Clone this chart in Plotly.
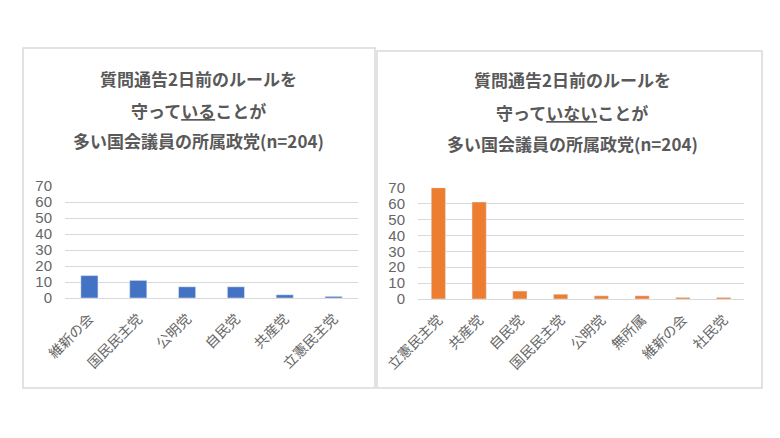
import plotly.graph_objects as go

# ---- data ----
left_parties = ["維新の会", "国民民主党", "公明党", "自民党", "共産党", "立憲民主党"]
left_values = [14, 11, 7, 7, 2, 1]

right_parties = ["立憲民主党", "共産党", "自民党", "国民民主党", "公明党", "無所属", "維新の会", "社民党"]
right_values = [70, 61, 5, 3, 2, 2, 1, 1]

left_title = ["質問通告2日前のルールを", "守って<u>いる</u>ことが", "多い国会議員の所属政党(n=204)"]
right_title = ["質問通告2日前のルールを", "守って<u>いない</u>ことが", "多い国会議員の所属政党(n=204)"]

y_ticks = [0, 10, 20, 30, 40, 50, 60, 70]

W, H = 780, 438
FONT = "Noto Sans CJK JP"
TXT = "#595959"
GRID = "#d9d9d9"

def px(x):
    return x / W

def py(y):
    return 1 - y / H

fig = go.Figure()
fig.add_trace(go.Bar(x=left_parties, y=left_values, marker_color="#4472C4",
                     xaxis="x", yaxis="y", showlegend=False))
fig.add_trace(go.Bar(x=right_parties, y=right_values, marker_color="#ED7D31",
                     xaxis="x2", yaxis="y2", showlegend=False))

xcommon = dict(showgrid=False, showline=True, linecolor=GRID, linewidth=1, ticks="",
               tickangle=-45, tickfont=dict(family=FONT, size=14, color="#666666"),
               fixedrange=True, ticklabelstandoff=6, automargin=False)
ycommon = dict(range=[0, 70], tickvals=y_ticks, showgrid=True, gridcolor=GRID, gridwidth=1,
               zeroline=False, showline=False, ticks="",
               tickfont=dict(family="Liberation Sans", size=15, color="#666666"),
               fixedrange=True, ticklabelstandoff=12, automargin=False)

fig.update_layout(
    width=W, height=H,
    margin=dict(l=0, r=0, t=0, b=0, autoexpand=False),
    paper_bgcolor="white", plot_bgcolor="white",
    bargap=0.65,
    xaxis=dict(domain=[px(65), px(358)], anchor="y", **xcommon),
    yaxis=dict(domain=[py(298), py(186)], anchor="x", **ycommon),
    xaxis2=dict(domain=[px(418), px(744)], anchor="y2", **xcommon),
    yaxis2=dict(domain=[py(299), py(187.7)], anchor="x2", **ycommon),
)

# panel borders
fig.add_shape(type="rect", xref="paper", yref="paper", x0=px(23), x1=px(375), y0=py(388), y1=py(48),
              line=dict(color="#d9d9d9", width=1.5), layer="below")
fig.add_shape(type="rect", xref="paper", yref="paper", x0=px(377), x1=px(762), y0=py(388), y1=py(51),
              line=dict(color="#d9d9d9", width=1.5), layer="below")

# titles
for cx, ys, lines in [(198, [78, 110, 140], left_title), (572, [79, 112, 143], right_title)]:
    for yy, t in zip(ys, lines):
        fig.add_annotation(text=f"<b>{t}</b>", x=px(cx), y=py(yy), xref="paper", yref="paper",
                           xanchor="center", yanchor="middle", showarrow=False,
                           font=dict(family=FONT, size=17, color=TXT))

fig.write_html("out.html", config={"displayModeBar": False},
               post_script="document.body.style.margin='0px';document.body.style.overflow='hidden';")
